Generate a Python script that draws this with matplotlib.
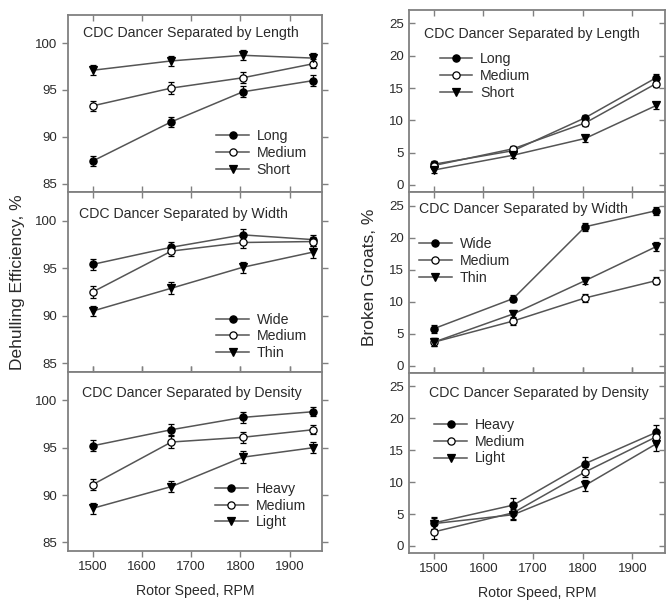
import matplotlib
matplotlib.use("Agg")
import matplotlib.pyplot as plt
import numpy as np

plt.rcParams['font.family'] = ['Liberation Sans', 'DejaVu Sans']

rpm = [1500, 1660, 1805, 1948]

# Dehulling efficiency, %
de_length_labels = ["Long", "Medium", "Short"]
de_length = [[87.4, 91.6, 94.8, 96.0],
             [93.3, 95.2, 96.3, 97.8],
             [97.1, 98.1, 98.7, 98.4]]
de_length_err = [[0.5, 0.55, 0.6, 0.6],
                 [0.5, 0.6, 0.6, 0.5],
                 [0.55, 0.55, 0.55, 0.55]]

de_width_labels = ["Wide", "Medium", "Thin"]
de_width = [[95.4, 97.2, 98.5, 98.0],
            [92.5, 96.8, 97.7, 97.8],
            [90.5, 92.9, 95.1, 96.7]]
de_width_err = [[0.55, 0.5, 0.6, 0.5],
                [0.6, 0.5, 0.55, 0.5],
                [0.5, 0.6, 0.6, 0.6]]

de_density_labels = ["Heavy", "Medium", "Light"]
de_density = [[95.2, 96.9, 98.2, 98.8],
              [91.1, 95.6, 96.1, 96.9],
              [88.6, 90.9, 94.0, 95.0]]
de_density_err = [[0.6, 0.6, 0.6, 0.5],
                  [0.6, 0.6, 0.6, 0.5],
                  [0.6, 0.6, 0.6, 0.6]]

# Broken groats, %
bg_length = [[3.2, 5.3, 10.4, 16.6],
             [3.0, 5.6, 9.6, 15.7],
             [2.3, 4.6, 7.2, 12.3]]
bg_length_err = [[0.5, 0.5, 0.5, 0.6],
                 [0.5, 0.5, 0.5, 0.6],
                 [0.5, 0.5, 0.6, 0.6]]

bg_width = [[5.8, 10.5, 21.7, 24.2],
            [3.7, 7.0, 10.6, 13.3],
            [3.7, 8.1, 13.3, 18.6]]
bg_width_err = [[0.6, 0.6, 0.6, 0.6],
                [0.6, 0.6, 0.6, 0.6],
                [0.6, 0.6, 0.6, 0.7]]

bg_density = [[3.6, 6.4, 12.9, 17.8],
              [2.2, 5.2, 11.6, 17.1],
              [3.5, 4.9, 9.5, 16.0]]
bg_density_err = [[1.0, 1.1, 1.0, 1.2],
                  [1.1, 1.0, 0.8, 1.0],
                  [0.9, 0.9, 0.9, 1.2]]

titles = ["CDC Dancer Separated by Length",
          "CDC Dancer Separated by Width",
          "CDC Dancer Separated by Density"]

markers = [dict(marker='o', mfc='black'),
           dict(marker='o', mfc='white'),
           dict(marker='v', mfc='black')]

spine_col = '#808080'
line_col = '#555555'
text_col = '#2a2a2a'

fig = plt.figure(figsize=(6.66, 6.01), dpi=100)

# [left, bottom, width, height] in figure fraction
left_pos = [[0.102, 0.6805, 0.381, 0.2945],
            [0.102, 0.381, 0.381, 0.2995],
            [0.102, 0.0832, 0.381, 0.298]]
right_pos = [[0.614, 0.6805, 0.384, 0.303],
             [0.614, 0.3794, 0.384, 0.301],
             [0.614, 0.0799, 0.384, 0.2995]]

# legend upper-left anchor and title centre, axes coords
left_leg = [(0.585, 0.355), (0.585, 0.33), (0.58, 0.387)]
right_leg = [(0.12, 0.767), (0.04, 0.75), (0.10, 0.751)]
left_title = [(0.484, 0.898), (0.457, 0.878), (0.488, 0.883)]
right_title = [(0.48, 0.868), (0.449, 0.906), (0.51, 0.889)]


def draw_panel(ax, series, errs, labels, title, title_xy, ylim, yticks, leg_anchor, right):
    for i in range(3):
        ax.errorbar(rpm, series[i], yerr=errs[i], color=line_col, lw=1.1,
                    ecolor='black', elinewidth=0.9, capsize=2.5, capthick=0.9,
                    markersize=5.2, mec='black', mew=0.9, label=labels[i],
                    **markers[i])
    ax.set_xlim(1450, 1965)
    ax.set_ylim(*ylim)
    ax.set_yticks(yticks)
    ax.set_xticks([1500, 1600, 1700, 1800, 1900])
    for s in ax.spines.values():
        s.set_color(spine_col)
        s.set_linewidth(1.3)
    ax.tick_params(axis='both', colors=spine_col, labelcolor=text_col,
                   labelsize=9.5, length=4, width=1.0,
                   top=True, right=True)
    ax.tick_params(axis='y', direction='in' if right else 'out')
    ax.tick_params(axis='x', direction='in')
    ax.text(title_xy[0], title_xy[1], title, transform=ax.transAxes,
            ha='center', va='center', fontsize=10.2, color=text_col)
    handles, labs = ax.get_legend_handles_labels()
    handles = [h[0] for h in handles]
    leg = ax.legend(handles, labs, loc='upper left', bbox_to_anchor=leg_anchor,
                    frameon=False, fontsize=10.2, handlelength=2.3,
                    handletextpad=0.55, labelspacing=0.2, borderpad=0,
                    borderaxespad=0)
    for t in leg.get_texts():
        t.set_color(text_col)


left_data = [(de_length, de_length_err, de_length_labels),
             (de_width, de_width_err, de_width_labels),
             (de_density, de_density_err, de_density_labels)]
right_data = [(bg_length, bg_length_err, de_length_labels),
              (bg_width, bg_width_err, de_width_labels),
              (bg_density, bg_density_err, de_density_labels)]

axes_l = []
axes_r = []
for k in range(3):
    ax = fig.add_axes(left_pos[k])
    d, e, lab = left_data[k]
    draw_panel(ax, d, e, lab, titles[k], left_title[k], (84.1, 103.0),
               [85, 90, 95, 100], left_leg[k], False)
    axes_l.append(ax)

    ax = fig.add_axes(right_pos[k])
    d, e, lab = right_data[k]
    draw_panel(ax, d, e, lab, titles[k], right_title[k], (-1.1, 27.1),
               [0, 5, 10, 15, 20, 25], right_leg[k], True)
    axes_r.append(ax)

for ax in axes_l[:2] + axes_r[:2]:
    ax.tick_params(axis='x', labelbottom=False)
axes_l[2].tick_params(axis='x', direction='out')
axes_r[2].tick_params(axis='x', direction='out')

axes_l[1].set_ylabel("Dehulling Efficiency, %", fontsize=12.5, color=text_col)
axes_l[1].yaxis.set_label_coords(-0.17, 0.5)
axes_r[1].set_ylabel("Broken Groats, %", fontsize=12.5, color=text_col)
axes_r[1].yaxis.set_label_coords(-0.125, 0.53)

axes_l[2].set_xlabel("Rotor Speed, RPM", fontsize=10.2, color=text_col)
axes_l[2].xaxis.set_label_coords(0.5, -0.184)
axes_r[2].set_xlabel("Rotor Speed, RPM", fontsize=10.2, color=text_col)
axes_r[2].xaxis.set_label_coords(0.5, -0.183)

fig.savefig("out.png", dpi=100)
